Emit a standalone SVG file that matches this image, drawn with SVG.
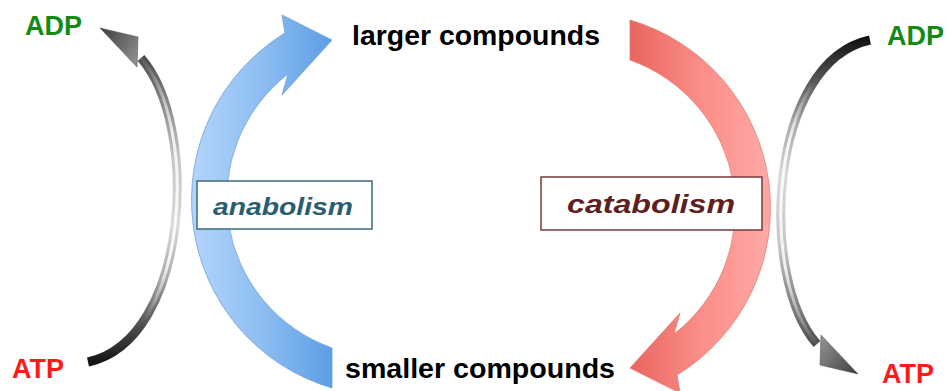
<svg xmlns="http://www.w3.org/2000/svg" width="948" height="391" viewBox="0 0 948 391">
<defs>
<linearGradient id="gBlue" gradientUnits="userSpaceOnUse" x1="190" y1="0" x2="334" y2="0">
<stop offset="0" stop-color="#b4d6fb"/><stop offset="0.5" stop-color="#8dbdf2"/><stop offset="1" stop-color="#5c9de4"/>
</linearGradient>
<linearGradient id="gRed" gradientUnits="userSpaceOnUse" x1="190" y1="0" x2="334" y2="0">
<stop offset="0" stop-color="#ffaaa7"/><stop offset="0.5" stop-color="#fb8d88"/><stop offset="1" stop-color="#e8655d"/>
</linearGradient>
<linearGradient id="gShaft" gradientUnits="userSpaceOnUse" x1="0" y1="55" x2="0" y2="366">
<stop offset="0" stop-color="#4a4a4a"/><stop offset="0.12" stop-color="#7a7a7a"/><stop offset="0.32" stop-color="#c4c4c4"/><stop offset="0.55" stop-color="#dadada"/><stop offset="0.72" stop-color="#a8a8a8"/><stop offset="0.88" stop-color="#4a4a4a"/><stop offset="1" stop-color="#0e0e0e"/>
</linearGradient>
<linearGradient id="gHi" gradientUnits="userSpaceOnUse" x1="0" y1="55" x2="0" y2="366">
<stop offset="0" stop-color="#fff" stop-opacity="0"/><stop offset="0.25" stop-color="#fff" stop-opacity="0.8"/><stop offset="0.65" stop-color="#fff" stop-opacity="0.9"/><stop offset="0.85" stop-color="#fff" stop-opacity="0"/>
</linearGradient>
<linearGradient id="gHead" gradientUnits="userSpaceOnUse" x1="100" y1="28" x2="140" y2="55">
<stop offset="0" stop-color="#3c3c3c"/><stop offset="1" stop-color="#8e8e8e"/>
</linearGradient>
<path id="bigArrow" d="M332,388 A196,196 0 0 1 285,33 L282,15 L332,40 L282,95 L288,74 A158,158 0 0 0 332,348 Z"/>
<g id="grayArrow">
<path d="M88,362 C190,340 200,125 141,58" fill="none" stroke="url(#gShaft)" stroke-width="9"/>
<path d="M88,362 C190,340 200,125 141,58" fill="none" stroke="url(#gHi)" stroke-width="3"/>
<polygon points="100,28 138,37 137,67" fill="url(#gHead)" stroke="#555" stroke-width="0.6"/>
</g>
</defs>
<style>
.lbl{font-family:"Liberation Sans",Arial,sans-serif;font-weight:bold;}
.big{font-size:28.5px;fill:#000;}
.adp{font-size:27px;fill:#138a13;}
.atp{font-size:27px;fill:#ff1a1a;}
.box{fill:#fff;stroke-width:1.5;}
.proc{font-family:"Liberation Sans",Arial,sans-serif;font-weight:bold;font-style:italic;}
</style>
<g id="connectors">
<g id="gray-left"><use href="#grayArrow"/></g>
<g id="gray-right" transform="rotate(180 479 201)"><use href="#grayArrow"/></g>
<g id="arrow-anabolism"><use href="#bigArrow" fill="url(#gBlue)" stroke="#6f9fd6" stroke-width="0.8"/></g>
<g id="arrow-catabolism" transform="rotate(180 481 204)"><use href="#bigArrow" fill="url(#gRed)" stroke="#e07a74" stroke-width="0.8"/></g>
</g>
<g id="node-anabolism">
<rect class="box" x="197" y="181" width="175" height="48" stroke="#3d6b79"/>
<text class="proc" x="213" y="215" font-size="23.5" fill="#2a5e6e" textLength="140" lengthAdjust="spacingAndGlyphs">anabolism</text>
</g>
<g id="node-catabolism">
<rect class="box" x="541" y="177" width="221" height="53" stroke="#7a3a3a"/>
<text class="proc" x="567" y="213" font-size="26" fill="#5e1f1f" textLength="168" lengthAdjust="spacingAndGlyphs">catabolism</text>
</g>
<g id="node-larger"><text class="lbl big" x="352" y="45" textLength="248" lengthAdjust="spacingAndGlyphs">larger compounds</text></g>
<g id="node-smaller"><text class="lbl big" x="345" y="378" textLength="270" lengthAdjust="spacingAndGlyphs">smaller compounds</text></g>
<g id="node-adp-left"><text class="lbl adp" x="25" y="35">ADP</text></g>
<g id="node-atp-left"><text class="lbl atp" x="12" y="378">ATP</text></g>
<g id="node-adp-right"><text class="lbl adp" x="887" y="45">ADP</text></g>
<g id="node-atp-right"><text class="lbl atp" x="882" y="383">ATP</text></g>
</svg>
